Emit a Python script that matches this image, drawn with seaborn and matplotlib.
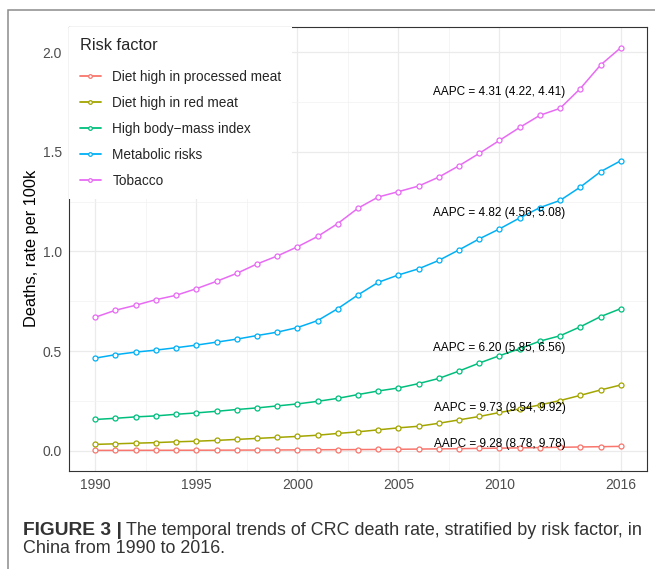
import numpy as np
import pandas as pd
import matplotlib
matplotlib.use("Agg")
import matplotlib.pyplot as plt
import seaborn as sns
from matplotlib.patches import Rectangle
from matplotlib.ticker import FixedLocator

# ---------------- data ----------------
years = list(range(1990, 2017))

processed_meat = [0.0020, 0.0020, 0.0022, 0.0024, 0.0026, 0.0028, 0.0030, 0.0033, 0.0036,
                  0.0040, 0.0044, 0.0050, 0.0055, 0.0060, 0.0067, 0.0075, 0.0085, 0.0095,
                  0.0105, 0.0118, 0.0130, 0.0145, 0.0160, 0.0175, 0.0190, 0.0205, 0.0220]
red_meat = [0.032, 0.035, 0.038, 0.041, 0.045, 0.048, 0.052, 0.057, 0.062,
            0.067, 0.072, 0.078, 0.087, 0.095, 0.105, 0.115, 0.123, 0.138,
            0.155, 0.172, 0.192, 0.210, 0.230, 0.252, 0.278, 0.305, 0.330]
bmi = [0.157, 0.163, 0.170, 0.175, 0.183, 0.190, 0.198, 0.207, 0.215,
       0.225, 0.235, 0.248, 0.263, 0.282, 0.300, 0.315, 0.337, 0.363,
       0.400, 0.440, 0.477, 0.512, 0.550, 0.577, 0.622, 0.673, 0.713]
metabolic = [0.465, 0.482, 0.495, 0.505, 0.517, 0.530, 0.545, 0.560, 0.578,
             0.595, 0.618, 0.653, 0.713, 0.782, 0.845, 0.882, 0.913, 0.955,
             1.008, 1.063, 1.113, 1.168, 1.220, 1.256, 1.323, 1.400, 1.455]
tobacco = [0.670, 0.705, 0.730, 0.758, 0.780, 0.813, 0.850, 0.890, 0.937,
           0.977, 1.023, 1.075, 1.140, 1.217, 1.273, 1.300, 1.328, 1.373,
           1.430, 1.492, 1.557, 1.622, 1.683, 1.718, 1.817, 1.935, 2.022]

risk_factors = ["Diet high in processed meat", "Diet high in red meat",
                "High body\u2212mass index", "Metabolic risks", "Tobacco"]
palette = ["#F8766D", "#A3A500", "#00BF7D", "#00B0F6", "#E76BF3"]

aapc_labels = ["AAPC = 9.28 (8.78, 9.78)", "AAPC = 9.73 (9.54, 9.92)",
               "AAPC = 6.20 (5.85, 6.56)", "AAPC = 4.82 (4.56, 5.08)",
               "AAPC = 4.31 (4.22, 4.41)"]
aapc_year = 2010
aapc_y = [0.0166, 0.2005, 0.503, 1.178, 1.786]

x_ticks = [1990, 1995, 2000, 2005, 2010, 2016]
x_minor = [1992.5, 1997.5, 2002.5, 2007.5, 2013]
y_ticks = [0.0, 0.5, 1.0, 1.5, 2.0]
y_minor = [0.25, 0.75, 1.25, 1.75]

y_title = "Deaths, rate per 100k"
legend_title = "Risk factor"
caption_bold = "FIGURE 3 |"
caption_line1 = "The temporal trends of CRC death rate, stratified by risk factor, in"
caption_line2 = "China from 1990 to 2016."

df = pd.DataFrame({
    "Year": years * 5,
    "Rate": processed_meat + red_meat + bmi + metabolic + tobacco,
    "Risk factor": np.repeat(risk_factors, len(years)),
})

# ---------------- style ----------------
sns.set_style("white")
plt.rcParams["font.family"] = ["Liberation Sans", "DejaVu Sans"]

W, H = 655, 569
fig = plt.figure(figsize=(W / 100, H / 100), dpi=100)
fig.patch.set_facecolor("white")

left, right, top, bottom = 69, 647, 27, 470.5
ax = fig.add_axes([left / W, 1 - bottom / H, (right - left) / W, (bottom - top) / H])

sns.lineplot(data=df, x="Year", y="Rate", hue="Risk factor", hue_order=risk_factors,
             palette=palette, marker="o", markersize=3.6, markerfacecolor="white",
             markeredgewidth=0.9, linewidth=1.1, legend=False, ax=ax, zorder=3)
for ln in ax.lines:
    ln.set_markeredgecolor(ln.get_color())

ax.set_xlim(1988.7, 2017.3)
ax.set_ylim(-0.099, 2.126)
ax.set_xticks(x_ticks)
ax.set_xticklabels([str(v) for v in x_ticks])
ax.set_yticks(y_ticks)
ax.set_yticklabels([f"{v:.1f}" for v in y_ticks])
ax.xaxis.set_minor_locator(FixedLocator(x_minor))
ax.yaxis.set_minor_locator(FixedLocator(y_minor))

ax.grid(True, which="major", color="#EBEBEB", linewidth=0.9, zorder=0)
ax.grid(True, which="minor", color="#F2F2F2", linewidth=0.5, zorder=0)
ax.set_axisbelow(True)

ax.tick_params(axis="both", which="major", length=3.0, width=0.8, color="#333333",
               labelcolor="#4D4D4D", labelsize=10, pad=2.0)
ax.tick_params(axis="both", which="minor", length=0)
ax.tick_params(axis="x", which="major", pad=2.6)
for s in ax.spines.values():
    s.set_color("#333333")
    s.set_linewidth(0.8)

ax.set_xlabel("")
ax.set_ylabel(y_title, fontsize=11.8, color="black", labelpad=2.5)

for lab, yv in zip(aapc_labels, aapc_y):
    ax.text(aapc_year, yv, lab, ha="center", va="baseline", fontsize=8.5,
            color="black", zorder=4)

handles = ax.lines[:len(risk_factors)]
leg = ax.legend(handles, risk_factors, title=legend_title, loc="upper left",
                bbox_to_anchor=(0, 1), borderaxespad=0, frameon=True,
                facecolor="white", edgecolor="none", framealpha=1, fancybox=False,
                fontsize=9.8, title_fontsize=11.8, handlelength=1.55,
                handletextpad=0.83, labelspacing=0.88, borderpad=0.8,
                alignment="left")
leg._legend_box.sep = 12.5
for h in leg.legend_handles:
    h.set_markersize(2.6)
    h.set_linewidth(1.3)
leg.set_zorder(5)

# ---------------- caption & frame ----------------
fig.patches.append(Rectangle((7.5 / W, -0.2), 1.3, 1.2 - 10 / H,
                             transform=fig.transFigure, fill=False,
                             edgecolor="#8C8C8C", linewidth=1.1))

cap_x = 22.7 / W
t1 = fig.text(cap_x, 1 - 535 / H, caption_bold, fontsize=13.8, fontweight="bold",
              color="#333333", va="baseline", ha="left")
fig.canvas.draw()
bb = t1.get_window_extent()
fig.text((bb.x1 + 4) / W, 1 - 535 / H, caption_line1, fontsize=12.9,
         color="#333333", va="baseline", ha="left")
fig.text(cap_x, 1 - 553 / H, caption_line2, fontsize=12.9, color="#333333",
         va="baseline", ha="left")

fig.savefig("out.png", dpi=100, facecolor="white")
